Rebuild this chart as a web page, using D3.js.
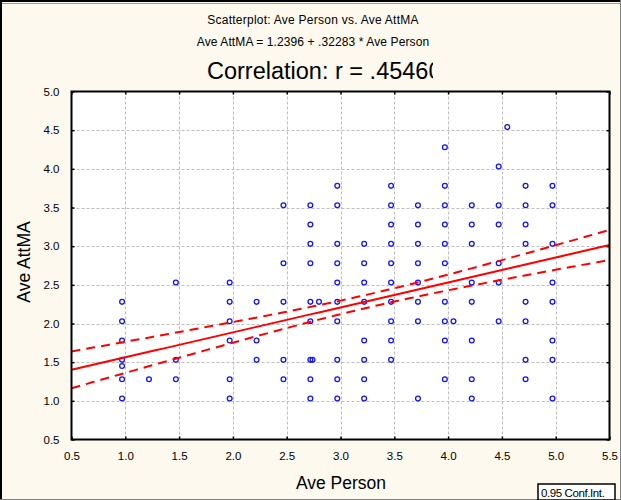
<!DOCTYPE html>
<html>
<head>
<meta charset="utf-8">
<script src="https://cdn.jsdelivr.net/npm/d3@7"></script>
<style>
  html, body { margin: 0; padding: 0; background: #fdf9ee; }
  svg { display: block; }
  text { font-family: "Liberation Sans", Arial, sans-serif; fill: #000; }
</style>
</head>
<body>
<svg id="chart" width="621" height="500"></svg>
<script>
// Ave Person (x) and Ave AttMA (y), one pair per plotted case
const avePerson = [
  0.97, 0.97, 0.97, 0.97, 0.97, 0.97, 0.97,
  1.22,
  1.47, 1.47, 1.47,
  1.97, 1.97, 1.97, 1.97, 1.97, 1.97,
  2.22, 2.22, 2.22,
  2.47, 2.47, 2.47, 2.47, 2.47,
  2.72, 2.72, 2.72, 2.72, 2.72, 2.72, 2.72, 2.72, 2.72, 2.80, 2.74,
  2.97, 2.97, 2.97, 2.97, 2.97, 2.97, 2.97, 2.97, 2.97, 2.97,
  3.22, 3.22, 3.22, 3.22, 3.22, 3.22, 3.22, 3.22,
  3.47, 3.47, 3.47, 3.47, 3.47, 3.47, 3.47, 3.47, 3.47, 3.47,
  3.72, 3.72, 3.72, 3.72, 3.72, 3.72, 3.72, 3.72,
  3.97, 3.97, 3.97, 3.97, 3.97, 3.97, 3.97, 3.97, 3.97, 3.97, 4.05,
  4.22, 4.22, 4.22, 4.22, 4.22, 4.22, 4.22, 4.22,
  4.47, 4.47, 4.47, 4.47, 4.47, 4.47, 4.55,
  4.72, 4.72, 4.72, 4.72, 4.72, 4.72, 4.72, 4.72,
  4.97, 4.97, 4.97, 4.97, 4.97, 4.97, 4.97, 4.97
];
const aveAttMA = [
  2.28, 2.03, 1.78, 1.53, 1.45, 1.28, 1.03,
  1.28,
  2.53, 1.53, 1.28,
  2.53, 2.28, 2.03, 1.78, 1.28, 1.03,
  2.28, 1.78, 1.53,
  3.53, 2.78, 2.28, 1.53, 1.28,
  3.53, 3.28, 3.03, 2.78, 2.28, 2.03, 1.53, 1.28, 1.03, 2.28, 1.53,
  3.78, 3.53, 3.03, 2.78, 2.53, 2.28, 2.03, 1.53, 1.28, 1.03,
  3.03, 2.78, 2.53, 2.28, 1.78, 1.53, 1.28, 1.03,
  3.78, 3.53, 3.28, 3.03, 2.78, 2.53, 2.28, 2.03, 1.78, 1.53,
  3.53, 3.28, 3.03, 2.78, 2.53, 2.28, 2.03, 1.03,
  4.28, 3.78, 3.53, 3.28, 3.03, 2.78, 2.28, 2.03, 1.78, 1.28, 2.03,
  3.53, 3.28, 3.03, 2.53, 2.28, 1.78, 1.28, 1.03,
  4.03, 3.53, 3.28, 2.78, 2.53, 2.03, 4.54,
  3.78, 3.53, 3.28, 3.03, 2.28, 2.03, 1.53, 1.28,
  3.78, 3.53, 3.03, 2.53, 2.28, 1.78, 1.53, 1.03
];

// Fitted line: Ave AttMA = 1.2396 + .32283 * Ave Person
const intercept = 1.2396;
const slope = 0.32283;
const correlationText = "Correlation: r = .45460";

// Sample statistics used for the 0.95 confidence band of the fit
const bandN = 248;
const bandMeanX = 3.3;
const bandSdX = 1.07;
const bandResidSd = 0.677;
const bandT = 1.97;

const xTicks = [0.5, 1.0, 1.5, 2.0, 2.5, 3.0, 3.5, 4.0, 4.5, 5.0, 5.5];
const yTicks = [0.5, 1.0, 1.5, 2.0, 2.5, 3.0, 3.5, 4.0, 4.5, 5.0];

const svg = d3.select("#chart");
const W = 621, H = 500;
const plot = { left: 71.5, right: 609.5, top: 91.5, bottom: 439.5 };

const x = d3.scaleLinear().domain([0.5, 5.5]).range([plot.left, plot.right]);
const y = d3.scaleLinear().domain([0.5, 5.0]).range([plot.bottom, plot.top]);

// page background and outer frame
svg.append("rect").attr("width", W).attr("height", H).attr("fill", "#fdf9ee");
svg.append("line").attr("x1", 0).attr("x2", W).attr("y1", 1).attr("y2", 1)
  .attr("stroke", "#000").attr("stroke-width", 2);
svg.append("line").attr("x1", 0).attr("x2", W).attr("y1", 3.5).attr("y2", 3.5)
  .attr("stroke", "#9a9a9a").attr("stroke-width", 1);
svg.append("line").attr("x1", 1).attr("x2", 1).attr("y1", 0).attr("y2", H)
  .attr("stroke", "#000").attr("stroke-width", 2);
svg.append("line").attr("x1", 0).attr("x2", W).attr("y1", H - 0.5).attr("y2", H - 0.5)
  .attr("stroke", "#808080").attr("stroke-width", 1);
svg.append("line").attr("x1", W - 0.5).attr("x2", W - 0.5).attr("y1", 0).attr("y2", H)
  .attr("stroke", "#808080").attr("stroke-width", 1);

// titles
svg.append("text").attr("x", 313).attr("y", 24).attr("text-anchor", "middle")
  .attr("font-size", 12).attr("letter-spacing", 0.25)
  .text("Scatterplot: Ave Person vs. Ave AttMA");
svg.append("text").attr("x", 313).attr("y", 46).attr("text-anchor", "middle")
  .attr("font-size", 12).attr("letter-spacing", 0.1)
  .text(`Ave AttMA = ${String(intercept)} + ${String(slope).replace(/^0/, "")} * Ave Person`);

svg.append("clipPath").attr("id", "corrClip")
  .append("rect").attr("x", 0).attr("y", 40).attr("width", 433).attr("height", 50);
svg.append("text").attr("x", 207).attr("y", 79)
  .attr("font-size", 23.5).attr("clip-path", "url(#corrClip)")
  .text(correlationText);

// plot area
svg.append("rect").attr("x", plot.left).attr("y", plot.top)
  .attr("width", plot.right - plot.left).attr("height", plot.bottom - plot.top)
  .attr("fill", "#ffffff");

// grid
const grid = svg.append("g").attr("stroke", "#bdbdbd").attr("stroke-width", 1)
  .attr("stroke-dasharray", "3,2");
grid.selectAll(".gx").data(xTicks.slice(1, -1)).join("line")
  .attr("x1", d => Math.round(x(d)) + 0.5).attr("x2", d => Math.round(x(d)) + 0.5)
  .attr("y1", plot.top).attr("y2", plot.bottom);
grid.selectAll(".gy").data(yTicks.slice(1, -1)).join("line")
  .attr("y1", d => Math.round(y(d)) + 0.5).attr("y2", d => Math.round(y(d)) + 0.5)
  .attr("x1", plot.left).attr("x2", plot.right);

// axes with inward ticks on all four sides
const axisText = g => g.selectAll("text")
  .attr("font-family", "Liberation Sans, Arial, sans-serif").attr("font-size", 11.5).attr("fill", "#000");
const fmt = d3.format(".1f");

svg.append("g").attr("transform", `translate(0,${plot.bottom})`)
  .call(d3.axisBottom(x).tickValues(xTicks).tickFormat(fmt).tickSizeInner(-3).tickSizeOuter(0).tickPadding(12))
  .call(g => g.select(".domain").remove())
  .call(g => g.selectAll("line").attr("stroke", "#000").attr("stroke-width", 1.5))
  .call(axisText);
svg.append("g").attr("transform", `translate(0,${plot.top})`)
  .call(d3.axisTop(x).tickValues(xTicks).tickFormat("").tickSizeInner(-3).tickSizeOuter(0))
  .call(g => g.select(".domain").remove())
  .call(g => g.selectAll("line").attr("stroke", "#000").attr("stroke-width", 1.5));
svg.append("g").attr("transform", `translate(${plot.left},0)`)
  .call(d3.axisLeft(y).tickValues(yTicks).tickFormat(fmt).tickSizeInner(-3).tickSizeOuter(0).tickPadding(12))
  .call(g => g.select(".domain").remove())
  .call(g => g.selectAll("line").attr("stroke", "#000").attr("stroke-width", 1.5))
  .call(axisText);
svg.append("g").attr("transform", `translate(${plot.right},0)`)
  .call(d3.axisRight(y).tickValues(yTicks).tickFormat("").tickSizeInner(-3).tickSizeOuter(0))
  .call(g => g.select(".domain").remove())
  .call(g => g.selectAll("line").attr("stroke", "#000").attr("stroke-width", 1.5));

// clip marks to the plot area
svg.append("clipPath").attr("id", "plotClip").append("rect")
  .attr("x", plot.left).attr("y", plot.top)
  .attr("width", plot.right - plot.left).attr("height", plot.bottom - plot.top);

// data points
const pts = avePerson.map((v, i) => [v, aveAttMA[i]]);
svg.append("g").attr("clip-path", "url(#plotClip)")
  .selectAll("circle").data(pts).join("circle")
  .attr("cx", d => x(d[0])).attr("cy", d => y(d[1])).attr("r", 2.4)
  .attr("fill", "none").attr("stroke", "#1414ff").attr("stroke-width", 1.3);

// regression line and confidence band
const fit = v => intercept + slope * v;
const half = v => bandT * bandResidSd *
  Math.sqrt(1 / bandN + (v - bandMeanX) ** 2 / ((bandN - 1) * bandSdX * bandSdX));
const xs = d3.range(0.5, 5.5001, 0.05);
const line = d3.line().x(d => x(d[0])).y(d => y(d[1]));
const fitG = svg.append("g").attr("clip-path", "url(#plotClip)")
  .attr("fill", "none").attr("stroke", "#ff0000").attr("stroke-width", 2);
fitG.append("path").attr("d", line(xs.map(v => [v, fit(v) + half(v)])))
  .attr("stroke-dasharray", "9,6");
fitG.append("path").attr("d", line(xs.map(v => [v, fit(v) - half(v)])))
  .attr("stroke-dasharray", "9,6");
fitG.append("path").attr("d", line(xs.map(v => [v, fit(v)])));

// plot border
svg.append("rect").attr("x", plot.left).attr("y", plot.top)
  .attr("width", plot.right - plot.left).attr("height", plot.bottom - plot.top)
  .attr("fill", "none").attr("stroke", "#000").attr("stroke-width", 2);

// axis titles
svg.append("text").attr("x", 341).attr("y", 489).attr("text-anchor", "middle")
  .attr("font-size", 17.5).text("Ave Person");
svg.append("text").attr("transform", "translate(30,262) rotate(-90)")
  .attr("text-anchor", "middle").attr("font-size", 17.5).text("Ave AttMA");

// legend box
svg.append("rect").attr("x", 538).attr("y", 484).attr("width", 77).attr("height", 16)
  .attr("fill", "#ffffff").attr("stroke", "#000").attr("stroke-width", 1.5);
svg.append("text").attr("x", 541).attr("y", 496.5).attr("font-size", 11.5)
  .attr("letter-spacing", -0.4).text("0.95 Conf.Int.");
</script>
</body>
</html>
